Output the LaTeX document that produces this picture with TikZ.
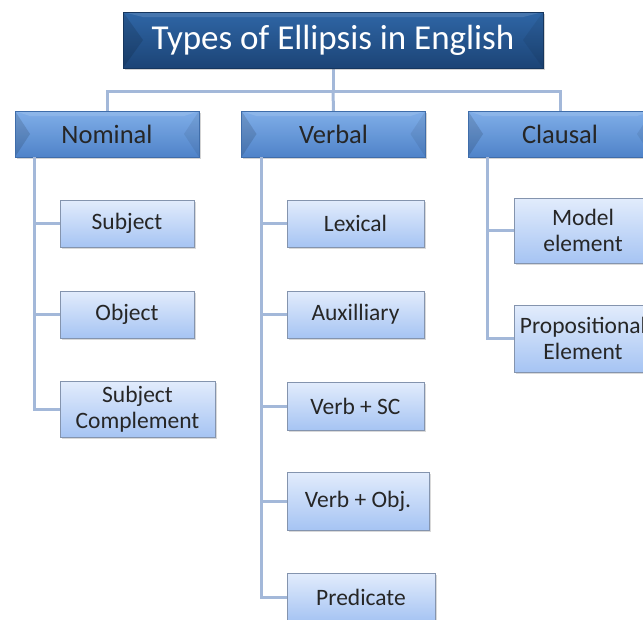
\documentclass[tikz,border=0pt]{standalone}
\usepackage{fontspec}
\setmainfont{Carlito}
\usetikzlibrary{shadows}

\definecolor{titletop}{HTML}{2F66A6}
\definecolor{titlebot}{HTML}{1C4476}
\definecolor{titleedge}{HTML}{16365E}
\definecolor{grouptop}{HTML}{80AEE8}
\definecolor{groupbot}{HTML}{4F83C9}
\definecolor{groupedge}{HTML}{3F6DAA}
\definecolor{leaftop}{HTML}{E2ECFC}
\definecolor{leafbot}{HTML}{A6C4F3}
\definecolor{leafedge}{HTML}{8494AE}
\definecolor{linkblue}{HTML}{A3B8D9}

\begin{document}
\begin{tikzpicture}[x=1pt,y=-1pt]

\tikzset{bevel/.style={path picture={
  \fill[black,opacity=.13] (path picture bounding box.north west) -- (path picture bounding box.south west) -- ([xshift=#1]path picture bounding box.west) -- cycle;
  \fill[black,opacity=.07] (path picture bounding box.north east) -- (path picture bounding box.south east) -- ([xshift=-#1]path picture bounding box.east) -- cycle;
  \fill[white,opacity=.12] (path picture bounding box.north west) -- (path picture bounding box.north east) -- ([xshift=-#1,yshift=-5pt]path picture bounding box.north east) -- ([xshift=#1,yshift=-5pt]path picture bounding box.north west) -- cycle;}}}
\tikzset{title/.style = {draw=titleedge, top color=titletop, bottom color=titlebot, text=white, font=\fontsize{35}{40}\selectfont, minimum width=420pt, minimum height=56pt, bevel=20pt, drop shadow={shadow xshift=1.5pt, shadow yshift=-2pt, opacity=.35}}}
\tikzset{group/.style = {draw=groupedge, top color=grouptop, bottom color=groupbot, text=black!85, font=\fontsize{26.5}{30}\selectfont, minimum width=184pt, minimum height=46pt, bevel=15pt, drop shadow={shadow xshift=1.5pt, shadow yshift=-2pt, opacity=.35}}}
\tikzset{leaf/.style = {draw=leafedge, top color=leaftop, bottom color=leafbot, text=black!85, font=\fontsize{23.5}{26}\selectfont, align=center, inner sep=0pt, drop shadow={shadow xshift=1.5pt, shadow yshift=-2pt, opacity=.3}}}
\tikzset{link/.style = {draw=linkblue, line width=3pt}}

\useasboundingbox (0,0) rectangle (643,619);
\clip (0,0) rectangle (643,619);

%edges
\coordinate (hub) at (333,91);
\draw[link] (333,68) -- (hub);
\draw[link] (107,111) |- (hub) -| (560,111);
\draw[link] (hub) -- (333.5,111);

%verticies
\node[title] (title) at (333,40) {Types of Ellipsis in English};
\node[group] (nom) at (107,134) {Nominal};
\node[group] (verb) at (333.5,134) {Verbal};
\node[group] (claus) at (560,134) {Clausal};

\node[leaf, minimum width=134pt, minimum height=47pt] (subj) at (127,223.5) {Subject};
\node[leaf, minimum width=134pt, minimum height=47pt] (obj) at (127,314.5) {Object};
\node[leaf, minimum width=155pt, minimum height=56pt] (subjc) at (137.5,409) {Subject\\Complement};

\node[leaf, minimum width=137pt, minimum height=47pt] (lex) at (355.5,223.5) {Lexical};
\node[leaf, minimum width=137pt, minimum height=47pt] (aux) at (355.5,314.5) {Auxilliary};
\node[leaf, minimum width=137pt, minimum height=48pt] (vsc) at (355.5,406) {Verb + SC};
\node[leaf, minimum width=142pt, minimum height=58pt] (vobj) at (358,501) {Verb + Obj.};
\node[leaf, minimum width=148pt, minimum height=48pt] (pred) at (361,597) {Predicate};

\node[leaf, minimum width=138pt, minimum height=65pt] (model) at (583,230.5) {Model\\element};
\node[leaf, minimum width=138pt, minimum height=67pt] (prop) at (583,338.5) {Propositional\\Element};

%edges
\draw[link] ([xshift=19.5pt]nom.south west) |- (subj.west);
\draw[link] ([xshift=19.5pt]nom.south west) |- (obj.west);
\draw[link] ([xshift=19.5pt]nom.south west) |- (subjc.west);
\draw[link] ([xshift=20pt]verb.south west) |- (lex.west);
\draw[link] ([xshift=20pt]verb.south west) |- (aux.west);
\draw[link] ([xshift=20pt]verb.south west) |- (vsc.west);
\draw[link] ([xshift=20pt]verb.south west) |- (vobj.west);
\draw[link] ([xshift=20pt]verb.south west) |- (pred.west);
\draw[link] ([xshift=20pt]claus.south west) |- (model.west);
\draw[link] ([xshift=20pt]claus.south west) |- (prop.west);

\end{tikzpicture}
\end{document}
